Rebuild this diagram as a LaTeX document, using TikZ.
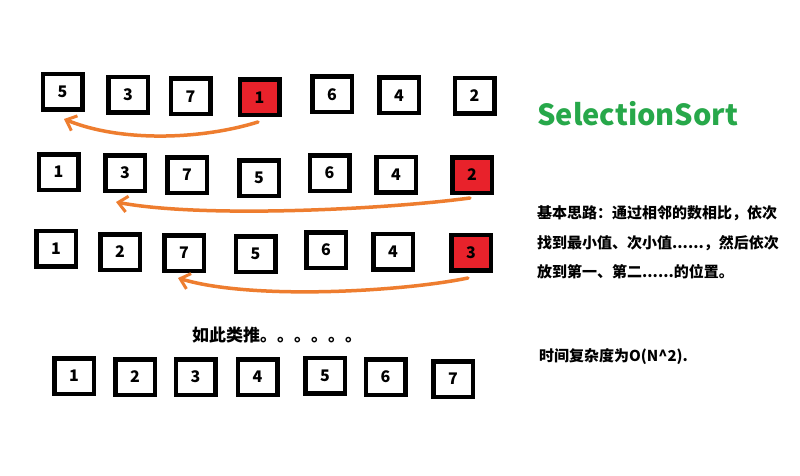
\documentclass[tikz,border=0pt]{standalone}
\usepackage{fontspec}
\setmainfont{Noto Sans CJK SC}
\usetikzlibrary{arrows.meta}
\definecolor{boxred}{HTML}{E8222B}
\definecolor{arroworange}{HTML}{EE7D2F}
\definecolor{titlegreen}{HTML}{27A84A}
\tikzset{
  numbox/.style={draw=black, line width=4.5pt, minimum width=39.5pt, minimum height=35.5pt, inner sep=0pt, font=\fontsize{16}{16}\selectfont\bfseries},
  redbox/.style={numbox, fill=boxred},
  swaparrow/.style={draw=arroworange, line width=3.5pt, line cap=round, -{Straight Barb[length=9pt,width=16pt,line width=3pt]}},
  cjktext/.style={anchor=west, inner sep=0pt, font=\fontsize{15}{15}\selectfont\bfseries}
}
\begin{document}
\begin{tikzpicture}[x=1pt,y=-1pt]
\useasboundingbox[fill=white] (0,0) rectangle (800,476);
% row 1
\node[numbox] (a1) at (62.5,92) {5};
\node[numbox] (a2) at (128,95) {3};
\node[numbox] (a3) at (190.5,96.5) {7};
\node[redbox] (a4) at (259.5,97.5) {1};
\node[numbox] (a5) at (332,94.5) {6};
\node[numbox] (a6) at (399,95.5) {4};
\node[numbox] (a7) at (474.5,96) {2};
% row 2
\node[numbox] (b1) at (58.5,172) {1};
\node[numbox] (b2) at (125,173) {3};
\node[numbox] (b3) at (187,175) {7};
\node[numbox] (b4) at (259,178) {5};
\node[numbox] (b5) at (329.5,173) {6};
\node[numbox] (b6) at (396,174.5) {4};
\node[redbox] (b7) at (472,175) {2};
% row 3
\node[numbox] (c1) at (56,248.5) {1};
\node[numbox] (c2) at (120,252) {2};
\node[numbox] (c3) at (184,253) {7};
\node[numbox] (c4) at (255.5,254) {5};
\node[numbox] (c5) at (326,250) {6};
\node[numbox] (c6) at (393,251.5) {4};
\node[redbox] (c7) at (471,252.5) {3};
% row 4
\node[numbox] (d1) at (74,376) {1};
\node[numbox] (d2) at (135,377) {2};
\node[numbox] (d3) at (195.5,377) {3};
\node[numbox] (d4) at (257.5,377) {4};
\node[numbox] (d5) at (325,375.5) {5};
\node[numbox] (d6) at (385.5,377) {6};
\node[numbox] (d7) at (453,379) {7};
% arrows
\coordinate (s1) at (258,122);
\coordinate (e1) at (64,119);
\draw[swaparrow] (s1) .. controls (200,140) and (120,142) .. (e1);
\coordinate (s2) at (470,198);
\coordinate (e2) at (116,202);
\draw[swaparrow] (s2) .. controls (380,210) and (200,218) .. (e2);
\coordinate (s3) at (468,278);
\coordinate (e3) at (178,278);
\draw[swaparrow] (s3) .. controls (400,292) and (250,300) .. (e3);
% texts
\node[anchor=west, inner sep=0pt, font=\fontsize{17}{17}\selectfont\bfseries] (etc) at (192,335) {如此类推。。。。。。};
\node[anchor=west, inner sep=0pt, text=titlegreen, font=\fontsize{29}{29}\selectfont\bfseries] (title) at (537,114) {SelectionSort};
\node[cjktext] (l1) at (537,213) {基本思路：通过相邻的数相比，依次};
\node[cjktext] (l2) at (537,243) {找到最小值、次小值......，然后依次};
\node[cjktext] (l3) at (537,272) {放到第一、第二......的位置。};
\node[cjktext] (l4) at (539,357) {时间复杂度为O(N\^{}2).};
\end{tikzpicture}
\end{document}
